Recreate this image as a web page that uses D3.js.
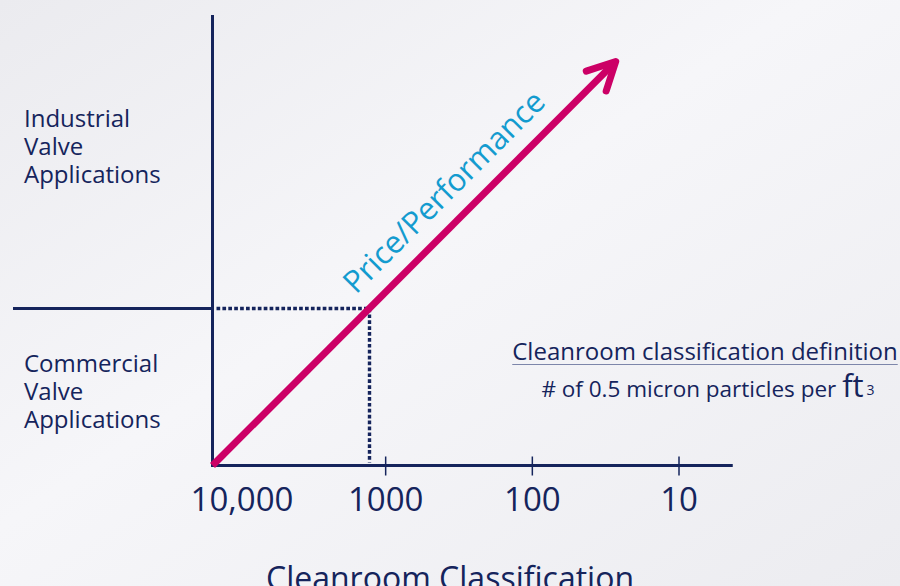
<!DOCTYPE html>
<html>
<head>
<meta charset="utf-8">
<script src="https://cdn.jsdelivr.net/npm/d3@7"></script>
<style>
  html, body { margin: 0; padding: 0; background: #f2f2f5; }
  svg { display: block; font-family: "Open Sans", "Noto Sans", sans-serif; }
</style>
</head>
<body>
<svg id="chart"></svg>
<script>
const width = 900;
const height = 586;

// Cleanroom classes shown on the x axis (particles per ft3)
const classValues = [10000, 1000, 100, 10];
const classLabels = ["10,000", "1000", "100", "10"];
const tickValues = [1000, 100, 10];
// Boundary between commercial and industrial valve applications
const thresholdClass = 1300;
// Price/performance arrow: start (origin) and tip, in class units
const arrowClass = [15300, 27];
const axisEndClass = 4.3;
const yTopClass = 13;
const regionLabels = [
  ["Industrial", "Valve", "Applications"],
  ["Commercial", "Valve", "Applications"]
];

const navy = "#15245c";
const magenta = "#cc0066";
const blue = "#139bcf";

const x = d3.scaleLog().domain([10000, 10]).range([239, 679]);
const y = d3.scaleLog().domain([arrowClass[0], yTopClass]).range([465, 15]);
// snap a coordinate to the pixel grid for crisp strokes
const px = v => Math.round(v) + 0.5;

const svg = d3.select("#chart")
    .attr("width", width)
    .attr("height", height)
    .attr("viewBox", [0, 0, width, height]);

// Soft background
const defs = svg.append("defs");
const grad = defs.append("linearGradient").attr("id", "bg")
    .attr("x1", 0).attr("y1", 0).attr("x2", 1).attr("y2", 1);
grad.append("stop").attr("offset", "0%").attr("stop-color", "#ebebef");
grad.append("stop").attr("offset", "45%").attr("stop-color", "#f6f6f9");
grad.append("stop").attr("offset", "100%").attr("stop-color", "#ececf0");
svg.append("rect").attr("width", width).attr("height", height).attr("fill", "url(#bg)");

const x0 = px(x(arrowClass[0]));
const y0 = px(y(arrowClass[0]));

// Axes
svg.append("line")
    .attr("x1", x0).attr("x2", x0)
    .attr("y1", y(yTopClass)).attr("y2", y0 + 1.5)
    .attr("stroke", navy).attr("stroke-width", 3);
svg.append("line")
    .attr("x1", x0 - 1.5).attr("x2", x(axisEndClass))
    .attr("y1", y0).attr("y2", y0)
    .attr("stroke", navy).attr("stroke-width", 3);

// Ticks
svg.append("g")
    .selectAll("line")
    .data(tickValues)
    .join("line")
    .attr("x1", d => x(d)).attr("x2", d => x(d))
    .attr("y1", y0 - 9).attr("y2", y0 + 10)
    .attr("stroke", navy).attr("stroke-width", 1.5);

// Tick labels
svg.append("g")
    .selectAll("text")
    .data(classValues)
    .join("text")
    .attr("x", (d, i) => i === 0 ? x(d) + 3 : x(d))
    .attr("y", y0 + 45)
    .attr("text-anchor", "middle")
    .attr("font-size", 33)
    .attr("fill", navy)
    .text((d, i) => classLabels[i]);

// Axis title
svg.append("text")
    .attr("x", 450).attr("y", 590)
    .attr("text-anchor", "middle")
    .attr("font-size", 32)
    .attr("fill", navy)
    .text("Cleanroom Classification");

// Region divider and dotted guides
const xt = px(x(thresholdClass));
const yt = px(y(thresholdClass));
svg.append("line")
    .attr("x1", 13).attr("x2", x0)
    .attr("y1", yt).attr("y2", yt)
    .attr("stroke", navy).attr("stroke-width", 3);
svg.append("line")
    .attr("x1", x0 + 4).attr("x2", xt + 2)
    .attr("y1", yt).attr("y2", yt)
    .attr("stroke", navy).attr("stroke-width", 3.4)
    .attr("stroke-dasharray", "3.7,2.2");
svg.append("line")
    .attr("x1", xt).attr("x2", xt)
    .attr("y1", yt).attr("y2", y0 - 3)
    .attr("stroke", navy).attr("stroke-width", 3.4)
    .attr("stroke-dasharray", "3.7,2.2");

// Region labels
regionLabels.forEach((lines, k) => {
  svg.append("g")
      .selectAll("text")
      .data(lines)
      .join("text")
      .attr("x", 24)
      .attr("y", (d, i) => (k === 0 ? 127 : 372) + i * 28)
      .attr("font-size", 24)
      .attr("fill", navy)
      .text(d => d);
});

// Price/performance arrow
const ax1 = x(arrowClass[1]);
const ay1 = y(arrowClass[1]);
svg.append("line")
    .attr("x1", x0).attr("y1", y0)
    .attr("x2", ax1).attr("y2", ay1)
    .attr("stroke", magenta).attr("stroke-width", 7);
const ang = Math.atan2(ay1 - y0, ax1 - x0);
const headLen = 31;
const spread = 27 * Math.PI / 180;
svg.append("path")
    .attr("d", d3.line()([
      [ax1 - headLen * Math.cos(ang - spread), ay1 - headLen * Math.sin(ang - spread)],
      [ax1, ay1],
      [ax1 - headLen * Math.cos(ang + spread), ay1 - headLen * Math.sin(ang + spread)]
    ]))
    .attr("fill", "none")
    .attr("stroke", magenta).attr("stroke-width", 7)
    .attr("stroke-linecap", "round").attr("stroke-linejoin", "round");

svg.append("text")
    .attr("transform", `translate(${xt},${yt}) rotate(${ang * 180 / Math.PI})`)
    .attr("x", 0)
    .attr("y", -19)
    .attr("font-size", 31)
    .attr("fill", blue)
    .text("Price/Performance");

// Definition note
const note = svg.append("g").attr("fill", navy);
const line1 = note.append("text")
    .attr("x", 705).attr("y", 360)
    .attr("text-anchor", "middle")
    .attr("font-size", 24)
    .text("Cleanroom classification definition");
const w1 = line1.node().getComputedTextLength();
note.append("line")
    .attr("x1", 705 - w1 / 2).attr("x2", 705 + w1 / 2)
    .attr("y1", 364.5).attr("y2", 364.5)
    .attr("stroke", "#7d86aa").attr("stroke-width", 1);
const line2 = note.append("text")
    .attr("x", 708).attr("y", 397)
    .attr("text-anchor", "middle")
    .attr("font-size", 22.5);
line2.append("tspan").text("# of 0.5 micron particles per ");
line2.append("tspan").attr("font-size", 31).text("ft");
line2.append("tspan").attr("font-size", 14).attr("dx", 3).attr("dy", -2).text("3");
</script>
</body>
</html>
